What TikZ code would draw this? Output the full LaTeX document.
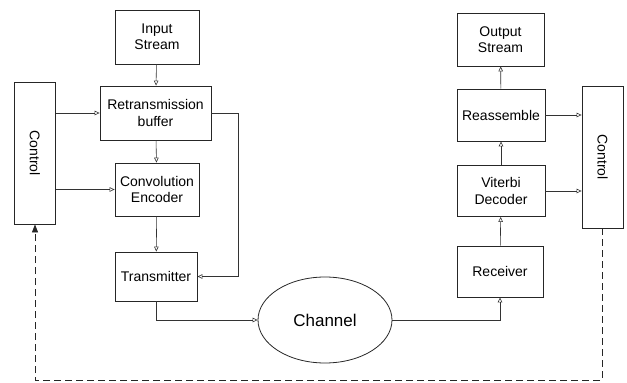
\documentclass[tikz,border=0pt]{standalone}
\usepackage{fontspec}
\setmainfont{Liberation Sans}
\usepackage{tikz}
\usetikzlibrary{shapes.geometric}
\usetikzlibrary{arrows.meta}
\usetikzlibrary{positioning}
\usetikzlibrary{calc}
\tikzstyle{boite}=[
        rectangle,
        draw=black!85,
        line width=0.8pt,
        fill=white,
        align=center,
        inner sep=2pt,
        font=\fontsize{14}{16.5}\selectfont
]
\tikzstyle{commande}=[rectangle,draw=black!85,line width=0.8pt,fill=white,
minimum width=41pt,minimum height=142pt,font=\fontsize{14}{16.5}\selectfont]
\tikzstyle{canal}=[ellipse,draw=black!85,line width=0.8pt,minimum width=134pt,
minimum height=86pt,inner sep=0pt,font=\fontsize{17}{20}\selectfont]
\tikzstyle{suite}=[-{Triangle[open,length=5pt,width=4.5pt]},draw=black!80,line width=0.6pt]
\tikzstyle{retour}=[-{Triangle[length=8pt,width=6pt]},draw=black!85,line width=0.8pt,
dash pattern=on 7pt off 4pt]

\begin{document}
\begin{tikzpicture}[x=1pt,y=-1pt]
\useasboundingbox (0,0) rectangle (627,383);
\node[boite,minimum width=84pt,minimum height=54pt] (in) at (157,37) {Input\\Stream};
\node[boite,minimum width=111pt,minimum height=54pt] (retr) at (155.5,113) {Retransmission\\buffer};
\node[boite,minimum width=84pt,minimum height=53pt] (conv) at (157,189.5) {Convolution\\Encoder};
\node[boite,minimum width=82pt,minimum height=49pt] (trans) at (156,276.5) {Transmitter};
\node[canal] (chan) at (325,320) {Channel};
\node[boite,minimum width=86pt,minimum height=51pt] (recv) at (500,271.5) {Receiver};
\node[boite,minimum width=88pt,minimum height=51pt] (vit) at (501,191) {Viterbi\\Decoder};
\node[boite,minimum width=88pt,minimum height=52pt] (reas) at (501,115) {Reassemble};
\node[boite,minimum width=87pt,minimum height=53pt] (out) at (500.5,39.5) {Output\\Stream};
\node[commande] (ctrlg) at (35,153) {\rotatebox{-90}{Control}};
\node[commande] (ctrld) at (602.5,157) {\rotatebox{-90}{Control}};
\coordinate (coude) at (238,113);
%Drawing Edges
\draw[suite] (in) -- (retr);
\draw[suite] (retr) -- (conv);
\draw[suite] (conv) -- (trans);
\draw[suite] (ctrlg.east |- retr.west) -- (retr.west);
\draw[suite] (ctrlg.east |- conv.west) -- (conv.west);
\draw[suite] (retr.east) -- (coude) |- (trans.east);
\draw[suite] (trans.south) |- (chan.west);
\draw[suite] (chan.east) -| (recv.south);
\draw[suite] (recv) -- (vit);
\draw[suite] (vit) -- (reas);
\draw[suite] (reas) -- (out);
\draw[suite] (reas.east) -- (ctrld.west |- reas.east);
\draw[suite] (vit.east) -- (ctrld.west |- vit.east);
\draw[retour] (ctrld.south) -- (ctrld.south |- 0,380) -| (ctrlg.south);
\end{tikzpicture}
\end{document}
